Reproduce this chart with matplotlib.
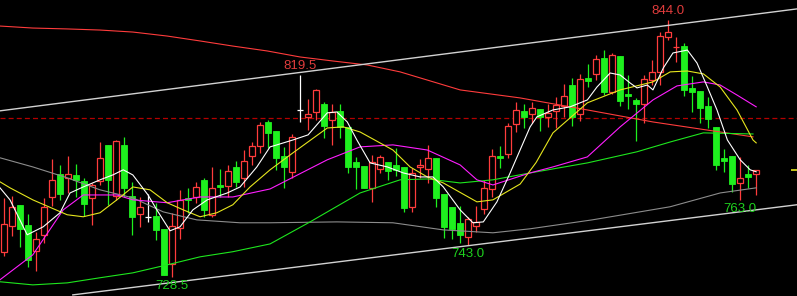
import matplotlib
matplotlib.use("Agg")
import matplotlib.pyplot as plt
from matplotlib.patches import Rectangle

# ---- 日K数据 ----
opens = [739.9, 751.5, 761.0, 752.0, 740.3, 747.5, 764.5, 774.9, 773.1, 774.4,
         771.7, 764.1, 771.7, 787.9, 765.0, 787.9, 765.0, 756.9, 755.6, 756.0,
         750.2, 734.5, 750.6, 764.1, 764.5, 772.2, 756.5, 769.9, 769.5, 778.0,
         773.1, 783.0, 787.4, 798.2, 794.2, 783.0, 775.8, 803.6, 800.5, 802.7,
         806.3, 799.1, 803.2, 796.0, 780.3, 778.5, 768.6, 777.1, 780.3, 778.9,
         778.0, 760.1, 778.0, 777.1, 782.1, 765.9, 760.1, 752.9, 746.6, 751.5,
         759.2, 768.1, 783.0, 783.9, 797.3, 803.2, 801.8, 804.1, 800.5, 803.2,
         805.4, 814.8, 801.8, 818.0, 819.8, 827.0, 811.7, 827.9, 810.8, 808.1,
         806.3, 817.1, 820.7, 836.4, 831.8, 832.3, 813.5, 812.1, 805.4, 796.0,
         782.1, 783.0, 770.8, 774.9, 774.9]
highs = [764.1, 765.0, 761.0, 756.9, 748.8, 764.1, 781.6, 778.9, 783.0, 779.4,
         773.1, 770.8, 789.2, 787.9, 790.1, 791.5, 771.3, 764.5, 765.9, 761.9,
         750.2, 757.4, 767.7, 768.6, 771.3, 773.1, 778.0, 777.1, 778.9, 780.7,
         785.6, 789.2, 798.2, 799.1, 794.2, 787.0, 792.8, 819.5, 808.5, 813.0,
         807.2, 806.3, 806.3, 796.0, 782.5, 778.5, 783.4, 783.4, 780.3, 786.5,
         778.0, 777.6, 781.6, 787.9, 782.1, 765.9, 760.1, 760.5, 755.6, 760.5,
         772.2, 786.1, 787.4, 797.8, 807.2, 806.3, 807.2, 804.1, 806.3, 809.4,
         815.3, 818.0, 819.8, 824.3, 828.3, 830.5, 829.2, 827.9, 819.3, 809.0,
         819.3, 826.1, 838.6, 844.0, 836.4, 833.7, 818.9, 812.1, 809.4, 796.0,
         786.1, 783.0, 782.5, 778.9, 776.7]
lows = [738.1, 747.0, 742.1, 733.1, 731.3, 743.9, 760.5, 763.2, 766.3, 764.5,
        756.0, 752.0, 769.9, 761.0, 763.2, 764.5, 747.5, 751.1, 753.3, 745.2,
        729.5, 728.5, 745.7, 757.4, 761.9, 755.6, 755.6, 764.5, 764.5, 769.0,
        769.0, 778.9, 784.3, 786.5, 776.7, 768.6, 773.1, 798.2, 794.6, 799.1,
        791.0, 787.9, 791.0, 775.3, 768.1, 768.6, 762.3, 775.3, 772.2, 774.0,
        757.8, 757.8, 773.1, 770.8, 760.1, 746.1, 745.7, 744.0, 743.0, 748.8,
        756.9, 764.5, 777.6, 782.1, 793.7, 795.5, 797.8, 794.2, 796.0, 795.5,
        800.5, 796.4, 798.7, 813.9, 817.1, 810.3, 810.8, 805.4, 804.1, 789.7,
        797.8, 814.8, 814.8, 835.0, 825.2, 809.9, 802.7, 797.8, 795.5, 776.7,
        775.8, 766.8, 763.0, 768.6, 765.4]
closes = [752.4, 760.1, 750.2, 736.3, 745.7, 760.1, 772.2, 765.9, 774.9, 772.2,
          761.4, 769.9, 782.1, 772.2, 789.7, 768.6, 755.6, 760.1, 755.6, 749.7,
          729.5, 751.5, 763.2, 763.2, 769.0, 758.7, 768.6, 769.0, 776.2, 771.3,
          780.7, 787.4, 796.9, 793.3, 782.1, 778.0, 791.5, 803.6, 801.8, 812.6,
          796.4, 802.7, 796.0, 778.0, 778.0, 768.6, 780.3, 782.5, 776.2, 776.7,
          759.6, 775.3, 778.9, 782.1, 764.1, 751.1, 750.2, 747.5, 754.7, 753.3,
          768.6, 783.0, 782.1, 796.4, 803.6, 800.5, 804.5, 800.5, 802.3, 805.9,
          809.9, 800.5, 817.5, 816.6, 826.5, 811.7, 828.3, 807.6, 809.9, 806.3,
          817.5, 820.7, 836.8, 838.6, 832.0, 812.6, 811.7, 804.5, 799.6, 778.9,
          780.7, 770.4, 773.1, 773.5, 776.7]

# ---- 均线 (按K线序号取样) ----
ma5_x = [-0.5, 0.75, 2.9, 4.9, 7.0, 8.25, 9.9, 12.0, 13.6, 14.9, 16.1, 18.0, 19.1,
         20.75, 22.0, 23.6, 25.4, 27.9, 29.5, 31.6, 33.25, 34.1, 36.1, 38.0, 40.4,
         41.6, 42.9, 44.1, 45.75, 47.9, 49.9, 52.0, 53.6, 54.9, 57.0, 58.6, 59.9,
         61.6, 63.25, 65.75, 66.6, 68.6, 70.75, 72.9, 74.1, 75.75, 77.0, 78.25,
         79.1, 80.4, 81.1, 82.4, 83.6, 85.4, 86.6, 87.9, 89.1, 90.4, 92.0, 93.25, 94.0]
ma5_y = [768.6, 763.2, 747.5, 751.1, 757.4, 766.3, 769.0, 772.2, 774.4, 776.7, 774.4,
         765.4, 758.7, 749.3, 751.1, 758.7, 763.2, 766.3, 769.0, 778.0, 787.0, 787.9,
         790.1, 792.4, 802.3, 802.7, 798.2, 790.1, 779.8, 778.0, 775.3, 773.5, 773.5,
         769.0, 758.7, 752.9, 753.3, 762.3, 775.3, 796.0, 800.5, 803.6, 805.0, 808.1,
         813.9, 820.2, 819.3, 815.7, 813.5, 814.8, 812.6, 822.5, 829.2, 830.5, 824.7,
         813.9, 803.6, 790.1, 781.2, 776.7, 775.8]
ma10_x = [-0.5, 0.75, 3.6, 7.9, 9.9, 12.0, 14.1, 16.1, 18.25, 20.4, 22.4, 24.5, 26.6,
          28.6, 30.75, 33.25, 36.1, 40.4, 42.4, 44.5, 48.6, 50.75, 52.9, 54.9, 59.1,
          61.1, 63.25, 64.5, 66.5, 68.6, 72.9, 77.0, 81.1, 83.25, 85.4, 87.4, 89.5,
          91.6, 93.6, 94.0]
ma10_y = [771.3, 768.6, 763.2, 756.5, 755.6, 757.4, 763.2, 769.0, 767.7, 761.9, 758.7,
          755.6, 757.4, 761.0, 769.0, 776.7, 784.3, 795.5, 796.0, 793.7, 785.6, 778.0,
          773.5, 770.8, 762.3, 763.2, 767.7, 770.3, 780.0, 793.3, 806.8, 812.6, 816.2,
          820.7, 821.1, 819.8, 813.9, 803.6, 790.1, 788.8]
ma20_x = [-0.5, 3.6, 7.4, 9.9, 14.1, 16.1, 20.4, 22.4, 24.5, 28.6, 33.25, 40.4, 44.5,
          48.6, 52.9, 57.0, 59.1, 61.1, 65.75, 68.6, 72.9, 77.0, 81.1, 84.1, 87.4,
          89.5, 91.6, 94.0]
ma20_y = [727.3, 738.5, 758.7, 765.4, 765.4, 763.2, 761.9, 763.2, 764.5, 764.5, 768.1,
          781.2, 787.0, 787.9, 785.6, 778.9, 772.2, 769.9, 775.3, 778.0, 782.5, 796.0,
          808.1, 814.4, 816.2, 814.8, 810.3, 805.0]
ma60_x = [-0.5, 3.6, 7.9, 12.0, 16.1, 20.4, 24.5, 28.6, 33.25, 38.25, 44.5, 49.5,
          52.9, 57.0, 61.1, 65.75, 72.9, 79.1, 83.25, 87.4, 93.6]
ma60_y = [726.4, 725.0, 725.9, 728.2, 730.4, 734.0, 737.6, 739.9, 743.4, 753.3, 766.3,
          772.2, 772.6, 770.8, 772.2, 775.3, 779.8, 784.8, 789.2, 793.3, 792.8]
ma120_x = [-0.5, 3.6, 7.9, 12.0, 16.1, 19.9, 24.1, 29.5, 33.25, 41.6, 48.6, 54.9,
           61.1, 65.75, 73.5, 83.25, 89.5, 94.0]
ma120_y = [782.1, 778.0, 773.1, 767.7, 764.1, 757.8, 754.2, 752.9, 752.9, 753.3, 752.9,
           749.7, 748.4, 750.2, 754.2, 760.1, 766.3, 768.6]
ma250_x = [-0.5, 3.6, 7.9, 12.0, 16.1, 20.4, 24.5, 28.6, 32.9, 37.0, 41.1, 45.4, 49.5,
           57.0, 64.5, 72.9, 81.1, 93.6]
ma250_y = [841.3, 840.4, 840.0, 839.5, 838.6, 836.8, 834.6, 832.3, 830.1, 827.4, 825.6,
           823.8, 820.7, 812.6, 809.0, 803.6, 798.2, 791.5]

# 通道线端点 (序号, 价格)
upper_x = [-0.5, 99.1]
upper_y = [803.2, 849.0]
lower_x = [8.6, 99.1]
lower_y = [720.5, 761.0]
ref_price = 800.0

# 高低点标注
high_marks = [37, 83]
low_marks = [21, 58, 92]

UP = "#ff3c3c"
DOWN = "#1ef01e"

fig = plt.figure(figsize=(7.97, 2.96), dpi=100, facecolor="black")
ax = fig.add_axes([0, 0, 1, 1])
ax.set_facecolor("black")
ax.set_xlim(-0.5, 99.1)
ax.set_ylim(720, 853)
ax.axis("off")

w = 0.75
for i, (o, h, l, c) in enumerate(zip(opens, highs, lows, closes)):
    top, bot = max(o, c), min(o, c)
    if c > o:
        ax.vlines(i, top, h, color=UP, lw=0.9, zorder=2)
        ax.vlines(i, l, bot, color=UP, lw=0.9, zorder=2)
        ax.add_patch(Rectangle((i - w / 2, bot), w, top - bot, fc="black",
                               ec=UP, lw=0.9, zorder=3))
    elif c < o:
        ax.vlines(i, l, h, color=DOWN, lw=0.9, zorder=2)
        ax.add_patch(Rectangle((i - w / 2, bot), w, top - bot, fc=DOWN,
                               ec=DOWN, lw=0.6, zorder=3))
    else:
        ax.vlines(i, l, h, color="white", lw=0.9, zorder=2)
        ax.hlines(o, i - w / 2, i + w / 2, color="white", lw=0.9, zorder=3)

# 均线
ax.plot(ma250_x, ma250_y, color="#ff3c3c", lw=0.8, zorder=4)
ax.plot(ma120_x, ma120_y, color="#8c8c8c", lw=0.8, zorder=4)
ax.plot(ma60_x, ma60_y, color="#1ee61e", lw=0.8, zorder=4)
ax.plot(ma20_x, ma20_y, color="#ff1eff", lw=0.8, zorder=4)
ax.plot(ma10_x, ma10_y, color="#e6e61e", lw=0.8, zorder=4)
ax.plot(ma5_x, ma5_y, color="#ffffff", lw=0.8, zorder=4)

# 通道线
ax.plot(upper_x, upper_y, color="#d2d2d2", lw=1.0, zorder=4)
ax.plot(lower_x, lower_y, color="#d2d2d2", lw=1.0, zorder=4)

# 参考虚线
ax.axhline(ref_price, color="#b40000", lw=0.9, dashes=(4, 2.5), zorder=1)
# 右侧最新价标记
ax.hlines(closes[-1], 98.3, 99.1, color="#e6e61e", lw=1.2, zorder=4)

font = dict(family="Liberation Sans", fontsize=9.5)
for i in high_marks:
    ax.annotate(f"{highs[i]:.1f}", (i, highs[i]), xytext=(0, 2),
                textcoords="offset points", ha="center", va="bottom",
                color="#e03c3c", zorder=5, **font)
for i in low_marks:
    ax.annotate(f"{lows[i]:.1f}", (i, lows[i]), xytext=(0, -2),
                textcoords="offset points", ha="center", va="top",
                color="#1ed21e", zorder=5, **font)

fig.savefig("out.png", dpi=100, facecolor="black")
